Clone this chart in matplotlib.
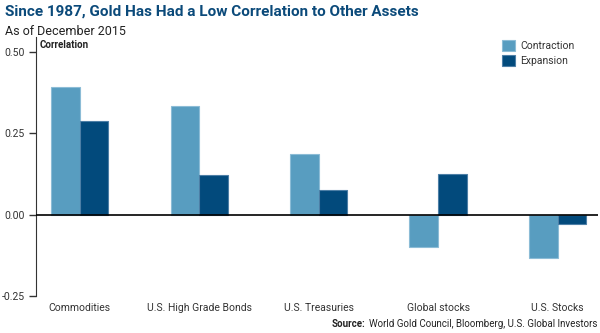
import numpy as np
import matplotlib.pyplot as plt

plt.rcParams['font.family'] = ['Roboto', 'DejaVu Sans']

categories = ['Commodities', 'U.S. High Grade Bonds', 'U.S. Treasuries', 'Global stocks', 'U.S. Stocks']
contraction = [0.39, 0.334, 0.187, -0.10, -0.132]
expansion = [0.288, 0.12, 0.074, 0.126, -0.028]

c_con = '#589dc0'
c_exp = '#024a7c'

fig = plt.figure(figsize=(6, 3.33), dpi=100)
ax = fig.add_axes([0.06, 0.111, 0.937, 0.778])

x = np.arange(len(categories))
w = 0.24
ax.bar(x - w / 2, contraction, w, color=c_con, edgecolor='#8cbcd6', linewidth=0.8, label='Contraction')
ax.bar(x + w / 2, expansion, w, color=c_exp, edgecolor='#4d7fa6', linewidth=0.8, label='Expansion')

ax.axhline(0, color='black', lw=1.2, zorder=3)
ax.set_xlim(-0.367, 4.34)
ax.set_ylim(-0.25, 0.545)
ax.set_yticks([-0.25, 0, 0.25, 0.5])
ax.set_yticklabels(['-0.25', '0.00', '0.25', '0.50'], fontsize=7.5, color='#333333')
ax.set_xticks(x)
ax.set_xticklabels(categories, fontsize=7.5, color='#333333')
ax.tick_params(axis='x', length=0, pad=5)
ax.tick_params(axis='y', length=5, width=1, color='#333333', pad=3)
for s in ['top', 'right', 'bottom']:
    ax.spines[s].set_visible(False)
ax.spines['left'].set_color('#333333')
ax.spines['left'].set_bounds(-0.25, 0.545)

ax.text(0.007, 0.99, 'Correlation', transform=ax.transAxes, fontsize=7, fontweight='bold',
        color='#222222', va='top', ha='left')

ax.legend(loc='upper right', bbox_to_anchor=(0.975, 1.025), frameon=False, fontsize=7.5,
          handlelength=1.3, handleheight=1.2, handletextpad=0.5, labelspacing=0.4, labelcolor='#333333')

fig.text(0.008, 0.985, 'Since 1987, Gold Has Had a Low Correlation to Other Assets', fontsize=11,
         fontweight='bold', color='#0b4a7a', va='top', ha='left')
fig.text(0.008, 0.925, 'As of December 2015', fontsize=9, color='#222222', va='top', ha='left')

src = fig.text(0.995, 0.012, 'World Gold Council, Bloomberg, U.S. Global Investors', fontsize=7,
               color='#222222', ha='right', va='bottom')
fig.canvas.draw()
bb = src.get_window_extent()
fig.text((bb.x0 - 3) / fig.bbox.width, 0.012, 'Source:', fontsize=7, fontweight='bold',
         color='#222222', ha='right', va='bottom')

fig.savefig('out.png', dpi=100)
